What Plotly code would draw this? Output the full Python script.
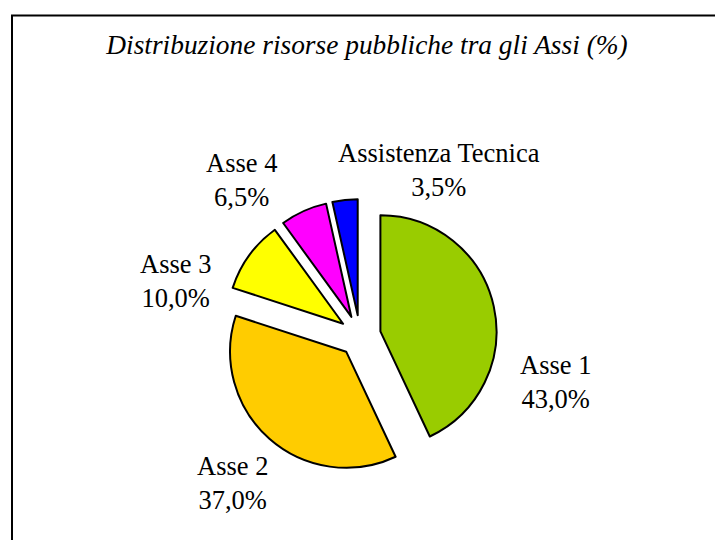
import plotly.graph_objects as go

categories = ["Asse 1", "Asse 2", "Asse 3", "Asse 4", "Assistenza Tecnica"]
values = [43.0, 37.0, 10.0, 6.5, 3.5]
colors = ["#99CC00", "#FFCC00", "#FFFF00", "#FF00FF", "#0000FF"]
title_text = "Distribuzione risorse pubbliche tra gli Assi (%)"

pct_labels = [("%.1f%%" % v).replace(".", ",") for v in values]

# page body has an 8px default margin: figure is sized to fit the window
OFF = 8
W, H = 723 - OFF, 540 - OFF


def px(sx):
    return (sx - OFF) / W


def py(sy):
    return 1 - (sy - OFF) / H


cx, cy, box = 360, 336, 274

# label placement (screen-pixel centres, layout only)
label_pos = [(555, 382), (232, 483), (175, 281), (241.5, 180), (438.5, 170)]

FONT = "Liberation Serif, Times New Roman, serif"

fig = go.Figure(go.Pie(
    labels=categories,
    values=values,
    sort=False,
    direction="clockwise",
    rotation=0,
    pull=[0.18] * len(values),
    marker=dict(colors=colors, line=dict(color="black", width=2)),
    textinfo="none",
    domain=dict(x=[px(cx - box / 2), px(cx + box / 2)],
                y=[py(cy + box / 2), py(cy - box / 2)]),
    showlegend=False,
    hoverinfo="label+percent",
))

annotations = []
for cat, pct, (lx, ly) in zip(categories, pct_labels, label_pos):
    annotations.append(dict(
        text=f"{cat}<br>{pct}", x=px(lx), y=py(ly), xref="paper", yref="paper",
        xanchor="center", yanchor="middle", showarrow=False, align="center",
        font=dict(family=FONT, size=26.5, color="black"),
    ))

fig.update_layout(
    width=W, height=H,
    margin=dict(l=0, r=0, t=0, b=0),
    paper_bgcolor="white",
    plot_bgcolor="white",
    title=dict(text=title_text, x=px(367), xanchor="center", y=py(44), yanchor="middle",
               font=dict(family=FONT, size=27.4, color="black", style="italic")),
    annotations=annotations,
    shapes=[dict(type="rect", xref="paper", yref="paper",
                 x0=px(12), x1=1.05, y0=-0.05, y1=py(15.5),
                 line=dict(color="black", width=2), fillcolor="rgba(0,0,0,0)")],
)

fig.write_html("out.html")
